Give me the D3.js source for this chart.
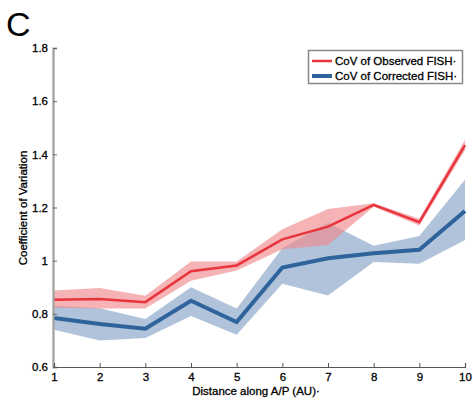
<!DOCTYPE html>
<html>
<head>
<meta charset="utf-8">
<script src="https://cdn.jsdelivr.net/npm/d3@7"></script>
<style>
  body { margin: 0; background: #fff; }
  text { font-family: "Liberation Sans", Arial, sans-serif; }
  .lbl { stroke: #000; stroke-width: 0.3px; }
</style>
</head>
<body>
<script>
// data
const positions = [1, 2, 3, 4, 5, 6, 7, 8, 9, 10];
const observed      = [0.853, 0.856, 0.844, 0.960, 0.982, 1.080, 1.128, 1.210, 1.145, 1.435];
const observedLow   = [0.823, 0.820, 0.820, 0.924, 0.963, 1.043, 1.059, 1.203, 1.132, 1.415];
const observedHigh  = [0.888, 0.897, 0.868, 0.997, 0.997, 1.118, 1.194, 1.216, 1.158, 1.455];
const corrected     = [0.784, 0.762, 0.744, 0.849, 0.769, 0.974, 1.009, 1.028, 1.041, 1.187];
const correctedLow  = [0.740, 0.700, 0.709, 0.792, 0.721, 0.913, 0.869, 0.995, 0.988, 1.078];
const correctedHigh = [0.830, 0.821, 0.781, 0.900, 0.820, 1.047, 1.143, 1.056, 1.093, 1.304];
const yTicks = [0.6, 0.8, 1, 1.2, 1.4, 1.6, 1.8];
const seriesNames = ["CoV of Observed FISH", "CoV of Corrected FISH"];

const width = 473, height = 402;
const x0 = 54, x1 = 465, yTop = 48, yBot = 367;
const fs = 11.5;

const svg = d3.select("body").append("svg")
    .attr("width", width)
    .attr("height", height);

const xScale = d3.scaleLinear().domain([1, 10]).range([x0, x1]);
const yScale = d3.scaleLinear().domain([0.6, 1.8]).range([yBot, yTop]);

// panel letter
svg.append("text")
    .attr("x", 6).attr("y", 36)
    .attr("font-size", 34)
    .text("C");

const rows = positions.map((p, i) => ({
    p,
    o: observed[i], oLo: observedLow[i], oHi: observedHigh[i],
    c: corrected[i], cLo: correctedLow[i], cHi: correctedHigh[i]
}));

const area = (lo, hi) => d3.area()
    .x(d => xScale(d.p))
    .y0(d => yScale(d[lo]))
    .y1(d => yScale(d[hi]));
const line = key => d3.line()
    .x(d => xScale(d.p))
    .y(d => yScale(d[key]));

// bands
svg.append("path").datum(rows)
    .attr("d", area("cLo", "cHi"))
    .attr("fill", "#a7bdd6")
    .attr("fill-opacity", 0.9);
svg.append("path").datum(rows)
    .attr("d", area("oLo", "oHi"))
    .attr("fill", "#ef8a8e")
    .attr("fill-opacity", 0.65);

// lines
svg.append("path").datum(rows)
    .attr("d", line("c"))
    .attr("fill", "none")
    .attr("stroke", "#2f639b")
    .attr("stroke-width", 4);
svg.append("path").datum(rows)
    .attr("d", line("o"))
    .attr("fill", "none")
    .attr("stroke", "#e8343c")
    .attr("stroke-width", 2.5);

// axes
const yAxis = d3.axisRight(yScale)
    .tickValues(yTicks)
    .tickSize(4)
    .tickFormat(d3.format("~g"));
const gy = svg.append("g")
    .attr("transform", `translate(${x0 - 1},0)`)
    .call(yAxis);
gy.select(".domain").attr("stroke", "#a0a0a0").attr("stroke-width", 2.2);
gy.selectAll(".tick line").attr("stroke", "#666");
gy.selectAll(".tick text")
    .attr("class", "lbl")
    .attr("x", -5)
    .attr("text-anchor", "end")
    .attr("font-size", fs)
    .attr("fill", "#000");

const xAxis = d3.axisTop(xScale)
    .tickValues(positions)
    .tickSize(4)
    .tickFormat(d3.format("d"));
const gx = svg.append("g")
    .attr("transform", `translate(0,${yBot})`)
    .call(xAxis);
gx.select(".domain").attr("stroke", "#555").attr("stroke-width", 1.2);
gx.selectAll(".tick line").attr("stroke", "#555");
gx.selectAll(".tick text")
    .attr("class", "lbl")
    .attr("y", 14)
    .attr("dy", 0)
    .attr("font-size", fs)
    .attr("fill", "#000");

// axis titles
svg.append("text")
    .attr("class", "lbl")
    .attr("x", 256).attr("y", 395)
    .attr("text-anchor", "middle")
    .attr("font-size", fs)
    .text("Distance along A/P (AU)·");
svg.append("text")
    .attr("class", "lbl")
    .attr("transform", "translate(27,208) rotate(-90)")
    .attr("text-anchor", "middle")
    .attr("font-size", fs)
    .text("Coefficient of Variation");

// legend
const lg = svg.append("g");
lg.append("rect")
    .attr("x", 308.5).attr("y", 50.5)
    .attr("width", 154).attr("height", 33)
    .attr("fill", "#fff")
    .attr("stroke", "#888")
    .attr("stroke-width", 1.5);
const legendColors = ["#e8343c", "#2f639b"];
const legendWidths = [2.5, 4];
seriesNames.forEach((name, i) => {
    const y = 61 + i * 15;
    lg.append("line")
        .attr("x1", 312).attr("x2", 332)
        .attr("y1", y).attr("y2", y)
        .attr("stroke", legendColors[i])
        .attr("stroke-width", legendWidths[i]);
    lg.append("text")
        .attr("class", "lbl")
        .attr("x", 335).attr("y", y + 4)
        .attr("font-size", fs)
        .text(name + "·");
});
</script>
</body>
</html>
